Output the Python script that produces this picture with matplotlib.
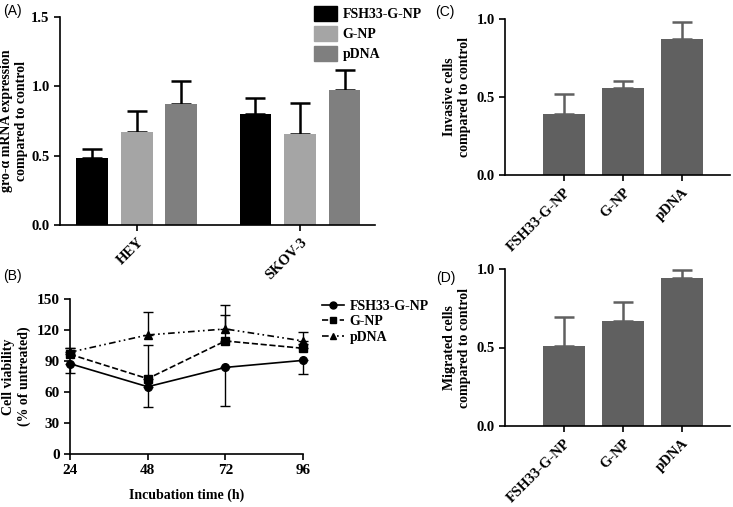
import matplotlib
matplotlib.use("Agg")
import matplotlib.pyplot as plt
import numpy as np
from matplotlib.patches import Patch
from matplotlib.lines import Line2D

# panel A: gro-alpha mRNA expression
cell_lines = ["HEY", "SKOV-3"]
groups = ["FSH33-G-NP", "G-NP", "pDNA"]
expr_mean = {"FSH33-G-NP": [0.48, 0.80], "G-NP": [0.67, 0.655], "pDNA": [0.875, 0.97]}
expr_err = {"FSH33-G-NP": [0.07, 0.118], "G-NP": [0.15, 0.222], "pDNA": [0.163, 0.15]}

# panel B: cell viability over time
hours = [24, 48, 72, 96]
via_mean = {"FSH33-G-NP": [87.4, 65.1, 83.8, 90.6],
            "G-NP": [96.5, 72.9, 109.4, 102.3],
            "pDNA": [98.5, 115.2, 121.0, 109.4]}
via_err = {"FSH33-G-NP": [9.4, 20.0, 37.0, 13.2],
           "G-NP": [6.5, 32.3, 24.8, 4.0],
           "pDNA": [4.0, 21.8, 23.0, 8.3]}

# panels C, D: invasion and migration
inv_mean = [0.389, 0.556, 0.874]
inv_err = [0.130, 0.049, 0.105]
mig_mean = [0.510, 0.670, 0.945]
mig_err = [0.186, 0.117, 0.047]

SERIF = "Liberation Serif"
plt.rcParams["font.family"] = SERIF
plt.rcParams["font.weight"] = "bold"
plt.rcParams["axes.labelweight"] = "bold"
plt.rcParams["axes.linewidth"] = 1.2
plt.rcParams["xtick.major.width"] = 1.2
plt.rcParams["ytick.major.width"] = 1.2
plt.rcParams["xtick.major.size"] = 4
plt.rcParams["ytick.major.size"] = 4

W, H = 733, 507
fig = plt.figure(figsize=(W / 100, H / 100), dpi=100)


def px_axes(left, top, right, bottom):
    return fig.add_axes([left / W, 1 - bottom / H, (right - left) / W, (bottom - top) / H])


def clean(ax):
    ax.spines["top"].set_visible(False)
    ax.spines["right"].set_visible(False)


# ---- (A)
ax = px_axes(60, 17, 375, 225)
clean(ax)
colors_a = {"FSH33-G-NP": "#000000", "G-NP": "#a5a5a5", "pDNA": "#7f7f7f"}
x = np.arange(len(cell_lines))
off = 0.273
for i, g in enumerate(groups):
    xs = x + (i - 1) * off
    ax.bar(xs, expr_mean[g], width=0.196, color=colors_a[g], zorder=2)
    ax.errorbar(xs, expr_mean[g], yerr=[np.zeros(2), expr_err[g]], fmt="none",
                ecolor="black", elinewidth=1.8, capsize=7, capthick=1.8, zorder=1)
ax.set_xlim(-0.472, 1.46)
ax.set_ylim(0, 1.5)
ax.set_yticks([0, 0.5, 1.0, 1.5])
ax.set_yticklabels(["0.0", "0.5", "1.0", "1.5"], fontsize=10.5)
ax.set_xticks(x)
ax.set_xticklabels(cell_lines, rotation=45, ha="right", rotation_mode="anchor", fontsize=10.5)
ax.set_ylabel("gro-α mRNA expression\ncompared to control", fontsize=10, labelpad=2)
handles = [Patch(color=colors_a[g], label=g) for g in groups]
fig.legend(handles=handles, loc="upper left", bbox_to_anchor=(308 / W, 1 - 0 / H),
           frameon=False, fontsize=10, handlelength=1.7, handleheight=1.3,
           labelspacing=0.35, handletextpad=0.4, borderaxespad=0)

# ---- (B)
ax = px_axes(70, 299, 303, 454)
clean(ax)
styles = {"FSH33-G-NP": ("-", "o"), "G-NP": ("--", "s"), "pDNA": ((0, (4, 2, 1, 2, 1, 2)), "^")}
for g in groups:
    ls, mk = styles[g]
    m = np.array(via_mean[g])
    e = np.array(via_err[g])
    if g == "FSH33-G-NP":
        yerr = [e, np.zeros_like(e)]
    else:
        yerr = [np.zeros_like(e), e]
    ax.errorbar(hours, m, yerr=yerr, color="black", ls=ls, marker=mk, ms=5.5, lw=1.2,
                elinewidth=1.0, capsize=3.5, capthick=1.0, label=g, clip_on=False)
ax.set_xlim(24, 96)
ax.set_ylim(0, 150)
ax.set_xticks(hours)
ax.set_yticks([0, 30, 60, 90, 120, 150])
ax.tick_params(labelsize=11)
ax.set_xlabel("Incubation time (h)", fontsize=10, labelpad=8)
ax.set_ylabel("Cell viability\n(% of untreated)", fontsize=10)
lh = [Line2D([0], [0], color="black", ls=styles[g][0], marker=styles[g][1], ms=5, lw=1.2)
      for g in groups]
fig.legend(handles=lh, labels=groups, loc="upper left", bbox_to_anchor=(316 / W, 1 - 294 / H),
           frameon=False, fontsize=10, handlelength=1.6, labelspacing=0.2,
           handletextpad=0.4, borderaxespad=0)

# ---- (C) and (D)
bar_gray = "#606060"
for (top, bottom), means, errs, lab in [((19, 175), inv_mean, inv_err, "Invasive cells\ncompared to control"),
                                         ((269, 426), mig_mean, mig_err, "Migrated cells\ncompared to control")]:
    ax = px_axes(505, top, 730, bottom)
    clean(ax)
    xs = np.arange(len(groups))
    ax.bar(xs, means, width=0.71, color=bar_gray, zorder=2)
    ax.errorbar(xs, means, yerr=[np.zeros(3), errs], fmt="none", ecolor=bar_gray,
                elinewidth=1.8, capsize=7, capthick=1.8, zorder=1)
    ax.set_xlim(-1, 2.81)
    ax.set_ylim(0, 1.0)
    ax.set_yticks([0, 0.5, 1.0])
    ax.set_yticklabels(["0.0", "0.5", "1.0"], fontsize=10.5)
    ax.set_xticks(xs)
    ax.set_xticklabels(groups, rotation=45, ha="right", rotation_mode="anchor", fontsize=10.5)
    ax.set_ylabel(lab, fontsize=10, labelpad=4)

# panel letters
for s, (px, py) in zip(["(A)", "(B)", "(C)", "(D)"], [(12, 11), (12, 276), (445, 12), (446, 278)]):
    fig.text(px / W, 1 - py / H, s, family="Liberation Sans", weight="normal",
             fontsize=10, ha="center", va="center")

fig.savefig("out.png", dpi=100)
